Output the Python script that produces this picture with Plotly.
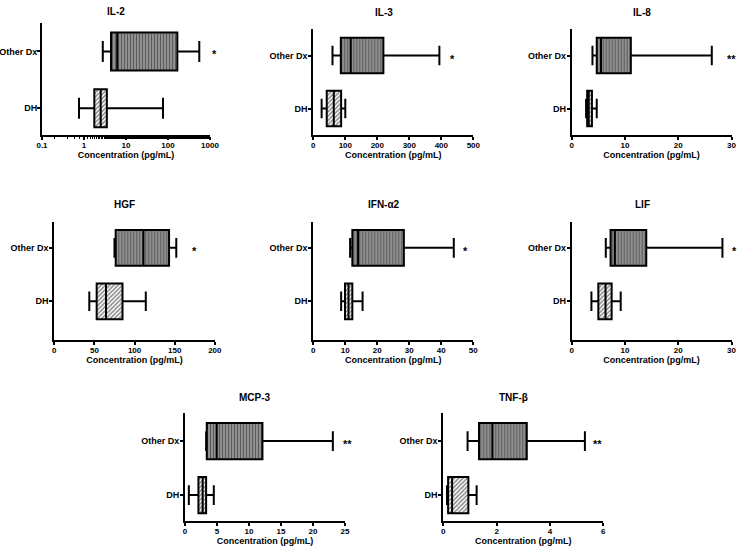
import plotly.graph_objects as go

# ---- data ----
cytokines = ["IL-2", "IL-3", "IL-8", "HGF", "IFN-α2", "LIF", "MCP-3", "TNF-β"]
groups = ["DH", "Other Dx"]

other_low = [2.8, 60, 3.9, 75, 11.5, 6.4, 3.3, 0.91]
other_q1 = [4.4, 86, 4.7, 76.5, 12.2, 7.3, 3.4, 1.34]
other_med = [6.2, 117, 5.5, 111, 14.0, 8.1, 4.95, 1.84]
other_q3 = [167, 219, 11.1, 143, 28.3, 14.0, 12.1, 3.13]
other_high = [556, 394, 26.3, 152, 43.9, 28.3, 23.1, 5.31]

dh_low = [0.76, 26, 2.7, 43.6, 8.7, 3.7, 0.6, 0.14]
dh_q1 = [1.76, 42, 2.9, 52.8, 9.9, 5.0, 2.1, 0.18]
dh_med = [2.5, 64, 3.2, 64.4, 11.0, 6.35, 2.76, 0.33]
dh_q3 = [3.5, 87, 3.8, 85, 12.2, 7.5, 3.3, 0.94]
dh_high = [76, 100, 4.7, 114, 15.4, 9.2, 4.5, 1.25]

significance = ["*", "*", "**", "*", "*", "*", "**", "**"]

x_max = [1000, 500, 30, 200, 50, 30, 25, 6]
x_dtick = [None, 100, 10, 50, 10, 10, 5, 2]
axis_title = "Concentration (pg/mL)"

# ---- layout geometry (pixels) ----
W, H = 739, 548
panel_px = [
    # x0, x1, ytop, ybottom
    (42, 210, 23, 135),
    (313.3, 473.3, 29, 135),
    (571.7, 731.5, 29, 135),
    (54.3, 214.8, 221.7, 340),
    (313.3, 473.3, 221.7, 340),
    (571.7, 731.5, 221.7, 340),
    (185, 345, 413, 521),
    (443.3, 603.3, 413, 521),
]
y_ranges = [
    [-0.47, 1.5], [-0.5, 1.5], [-0.5, 1.5],
    [-0.725, 1.49], [-0.725, 1.49], [-0.725, 1.49],
    [-0.48, 1.52], [-0.48, 1.52],
]
y_label_standoff = [-2, -1, -1, -1, -1, -1, -1, -1]
title_ypx = [12, 13, 13, 205, 205, 205, 398, 398]
# star position: (pixel x, anchor)
star_pos = [(214, "center"), (452, "center"), (737, "right"), (194, "center"),
            (465.7, "center"), (738, "right"), (347, "center"), (597.3, "center")]

FONT = "Arial, Liberation Sans, sans-serif"
BOX_W = 0.67

fig = go.Figure()
layout = dict(
    width=W, height=H, margin=dict(l=0, r=0, t=0, b=0, autoexpand=False),
    autosize=False,
    paper_bgcolor="white", plot_bgcolor="white", showlegend=False,
    barmode="overlay", boxmode="overlay",
    font=dict(family=FONT, color="black"),
)
annotations = []

for i, name in enumerate(cytokines):
    n = "" if i == 0 else str(i + 1)
    xa, ya = "x" + n, "y" + n
    x0, x1, yt, yb = panel_px[i]

    stats = {
        0: (dh_low[i], dh_q1[i], dh_med[i], dh_q3[i], dh_high[i]),
        1: (other_low[i], other_q1[i], other_med[i], other_q3[i], other_high[i]),
    }
    for pos, (lo, q1, med, q3, hi) in stats.items():
        if pos == 1:
            pattern = dict(shape="|", bgcolor="#9a9a9a", fgcolor="#1a1a1a",
                           size=3, solidity=0.45)
        else:
            pattern = dict(shape="/", bgcolor="white", fgcolor="#111111",
                           size=3, solidity=0.5)
        fig.add_trace(go.Bar(
            y=[pos], x=[q3 - q1], base=[q1], orientation="h", width=BOX_W,
            marker=dict(color="#9a9a9a" if pos == 1 else "white",
                        pattern=pattern, line=dict(width=0)),
            xaxis=xa, yaxis=ya, hoverinfo="skip",
        ))
        fig.add_trace(go.Box(
            y=[pos], q1=[q1], median=[med], q3=[q3],
            lowerfence=[lo], upperfence=[hi], orientation="h",
            width=BOX_W, whiskerwidth=0.55, fillcolor="rgba(0,0,0,0)",
            line=dict(color="black", width=2), boxpoints=False,
            xaxis=xa, yaxis=ya,
        ))

    xdom = [x0 / W, x1 / W]
    ydom = [1 - yb / H, 1 - yt / H]
    xaxis = dict(
        domain=xdom, anchor=ya, showline=True, linecolor="black", linewidth=2,
        ticks="outside", ticklen=3, tickwidth=1.5, tickcolor="black",
        showgrid=False, zeroline=False, automargin=False,
        ticklabelstandoff=-2,
        tickfont=dict(family=FONT, size=8, color="black", weight="bold"),
        title=dict(text=axis_title, standoff=2,
                   font=dict(family=FONT, size=9, color="black", weight="bold")),
    )
    if i == 0:
        xaxis.update(type="log", range=[-1, 3],
                     tickvals=[0.1, 1, 10, 100, 1000],
                     ticktext=["0.1", "1", "10", "100", "1000"],
                     minor=dict(ticks="outside", ticklen=2, tickwidth=1,
                                tickcolor="black", showgrid=False))
    else:
        xaxis.update(range=[0, x_max[i]], dtick=x_dtick[i], tick0=0)
    yaxis = dict(
        domain=ydom, anchor=xa, range=y_ranges[i], showline=True,
        linecolor="black", linewidth=2, ticks="outside", ticklen=3,
        tickwidth=1.5, tickcolor="black", showgrid=False, zeroline=False,
        automargin=False, tickvals=[0, 1], ticktext=groups,
        ticklabelstandoff=y_label_standoff[i],
        tickfont=dict(family=FONT, size=9, color="black", weight="bold"),
    )
    layout["xaxis" + n] = xaxis
    layout["yaxis" + n] = yaxis

    annotations.append(dict(
        text=name, xref="paper", yref="paper",
        x=(x0 + 0.44 * (x1 - x0)) / W, y=1 - title_ypx[i] / H,
        xanchor="center", yanchor="middle", showarrow=False,
        font=dict(family=FONT, size=10, color="black", weight="bold"),
    ))
    sx, sanchor = star_pos[i]
    annotations.append(dict(
        text=significance[i], xref="paper", yref=ya,
        x=sx / W, y=1, xanchor=sanchor, yanchor="middle",
        yshift=-3, showarrow=False, borderpad=0,
        font=dict(family=FONT, size=11, color="black", weight="bold"),
    ))

layout["annotations"] = annotations
fig.update_layout(**layout)
fig.write_html(
    "out.html",
    config={"displayModeBar": False},
    post_script="document.body.style.margin='0';document.body.style.overflow='hidden';",
)
